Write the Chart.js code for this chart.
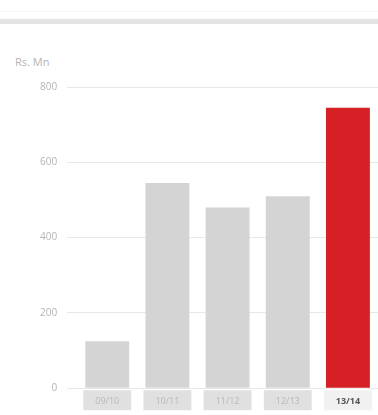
<!DOCTYPE html>
<html>
<head>
<meta charset="utf-8">
<script src="https://cdn.jsdelivr.net/npm/chart.js@4"></script>
<style>
  body { margin: 0; background: #fff; font-family: "Open Sans", sans-serif; overflow: hidden; }
  #faintRule { position: absolute; left: 0; top: 11px; width: 378px; height: 1px; background: #f6f6f6; }
  #topRule { position: absolute; left: 0; top: 19px; width: 378px; height: 5px; background: #e4e4e4; }
  #unit { position: absolute; left: 15px; top: 54px; font-size: 11px; color: #b4b4b4; }
  #wrap { position: absolute; left: 0; top: 30px; width: 378px; height: 385px; }
</style>
</head>
<body>
<div id="faintRule"></div>
<div id="topRule"></div>
<div id="unit">Rs. Mn</div>
<div id="wrap"><canvas id="revChart"></canvas></div>
<script>
const years = ["09/10", "10/11", "11/12", "12/13", "13/14"];
const revenue = [125, 545, 480, 510, 745];
const yTicks = [0, 200, 400, 600, 800];

let grey = "#d4d4d4";
let red = "#d62026";
const barColors = years.map((y, i) => i == years.length - 1 ? red : grey);

// grey boxes behind the year labels, as wide as the bars
const labelBoxes = {
  id: 'labelBoxes',
  beforeDraw(chart) {
    const ctx = chart.ctx;
    const meta = chart.getDatasetMeta(0);
    const x = chart.scales.x;
    ctx.save();
    meta.data.forEach((bar, i) => {
      let w = bar.width + 4;
      ctx.fillStyle = i == years.length - 1 ? "#f1f1f1" : "#e0e0e0";
      ctx.fillRect(bar.x - w / 2, x.top + 2, w, 20);
    });
    ctx.restore();
  }
};

const ctx = document.getElementById('revChart');
new Chart(ctx, {
  type: 'bar',
  data: {
    labels: years,
    datasets: [{
      data: revenue,
      backgroundColor: barColors,
      borderWidth: 0,
      barPercentage: 0.73,
      categoryPercentage: 1
    }]
  },
  options: {
    responsive: true,
    maintainAspectRatio: false,
    animation: false,
    layout: { padding: { top: 57, right: 0, left: 30, bottom: 8 } },
    plugins: { legend: { display: false }, tooltip: { enabled: false } },
    scales: {
      x: {
        grid: { display: false },
        border: { display: false },
        ticks: {
          padding: 0,
          color: (c) => c.index == years.length - 1 ? "#555" : "#b8b8b8",
          font: (c) => ({ family: "Open Sans", size: 9, weight: c.index == years.length - 1 ? 'bold' : 'normal' })
        }
      },
      y: {
        min: 0,
        max: 800,
        afterBuildTicks: (axis) => { axis.ticks = yTicks.map(v => ({ value: v })); },
        grid: { color: "#e8e8e8", tickLength: 10, drawTicks: true },
        border: { display: false },
        ticks: {
          padding: 10,
          color: "#b4b4b4",
          font: { family: "Open Sans", size: 10 }
        }
      }
    }
  },
  plugins: [labelBoxes]
});
</script>
</body>
</html>
